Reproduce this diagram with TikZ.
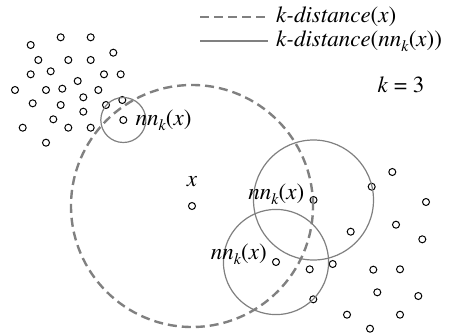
\documentclass[tikz,border=0pt]{standalone}
\usepackage[T1]{fontenc}
\usepackage{times}
\usetikzlibrary{positioning}
\newcommand{\nnk}{\textit{nn}\raisebox{-5pt}{\fontsize{16}{16}\selectfont\textit{k}}(\textit{x})}

\begin{document}
\begin{tikzpicture}[x=1pt,y=-1pt]
			\tikzstyle{every node} = [font=\fontsize{23}{27}\selectfont,inner sep=1pt]
			\tikzstyle{pt} = [circle,draw=black,line width=1pt,inner sep=0pt,minimum size=7pt]
			\tikzstyle{kdist} = [draw=gray,line width=2.4pt,dash pattern=on 9pt off 5pt]
			\tikzstyle{kdnn} = [draw=gray,line width=1.2pt]
			\useasboundingbox (0,0) rectangle (452,332);
			% left cluster
			\foreach \px/\py [count=\i] in {30.7/45, 60.7/37.3, 90.7/37.3, 113.3/52.7, 38.3/60, 68.3/60, 90.7/60,
				30.7/74.3, 50.7/71.3, 104/74.3, 120.7/74.3, 77.7/81, 15/90, 46/90, 62.3/88.7, 98.3/90,
				83.3/97.3, 32.7/103.3, 60.7/105, 106/105, 122.3/100, 53.3/119.3, 83.3/111.7,
				22.7/127.7, 68.3/127.7, 90.7/127.7, 46/142.7}
			\node[pt] (l\i) at (\px,\py) {};
			% right cluster
			\foreach \px/\py [count=\i] in {392.3/172, 371.7/186.7, 426/202, 396/224.7, 350.7/231.7, 422.3/239.3,
				309.7/269.3, 332.7/264, 373.3/269.7, 400/269.3, 377.3/292.3, 418.3/296,
				313.3/299.3, 347/314.7, 400/314.7, 370/328.7}
			\node[pt] (r\i) at (\px,\py) {};
			\node[pt] (x) at (192,206) {};
			\node[pt] (n1) at (123.3,120) {};
			\node[pt] (n2) at (313.5,200) {};
			\node[pt] (n3) at (276,262) {};
			\draw[kdist] (x) circle[radius=121pt];
			\draw[kdnn] (n1) circle[radius=22.5pt];
			\draw[kdnn] (n2) circle[radius=60pt];
			\draw[kdnn] (n3) circle[radius=52.6pt];
			\node[above=14pt of x] (xl) {\textit{x}};
			\node[right=7pt of n1] (n1l) {\nnk};
			\node[left=4pt of n2,yshift=6pt] (n2l) {\nnk};
			\node[left=4pt of n3,yshift=8pt] (n3l) {\nnk};
			% legend
			\coordinate (d1) at (200,17);
			\coordinate (d2) at (268,17);
			\coordinate (s1) at (200,41);
			\coordinate (s2) at (268,41);
			\draw[kdist] (d1) -- (d2);
			\draw[kdnn] (s1) -- (s2);
			\node[right=7pt of d2] (lg1) {\textit{k-distance}(\textit{x})};
			\node[right=7pt of s2] (lg2) {\textit{k-distance}(\nnk)};
			\node (kval) at (401,85) {\textit{k} = 3};
			\end{tikzpicture}
\end{document}
